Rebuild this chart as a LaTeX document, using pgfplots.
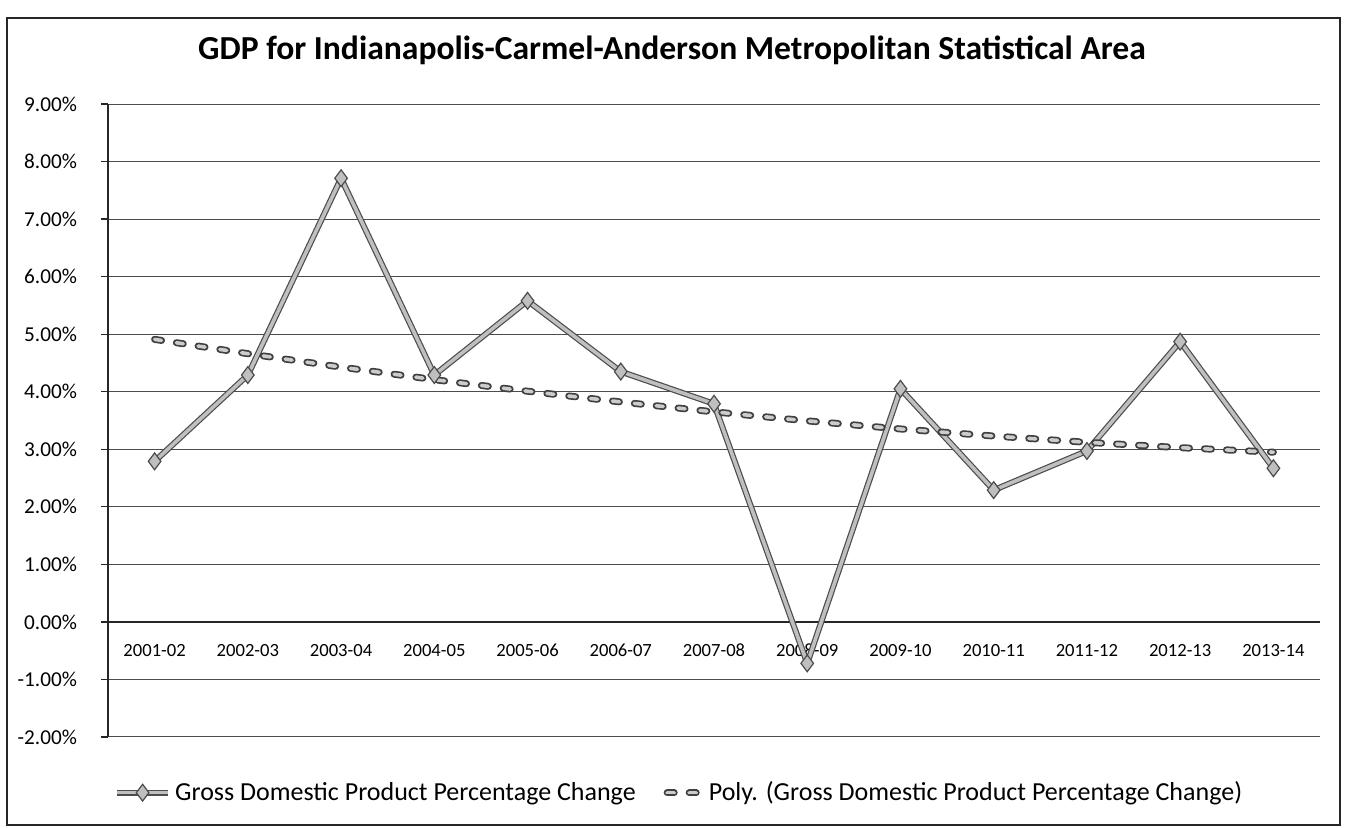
\documentclass[border=0pt]{standalone}
\usepackage{pgfplots}
\pgfplotsset{compat=1.18}
\usepackage{fontspec}
\setmainfont{Carlito}
\begin{document}
\begin{tikzpicture}
\useasboundingbox (-54pt,-45.5pt) rectangle (620pt,368.5pt);
\draw[black!85, line width=0.6pt] (-50.5pt,-44pt) rectangle (616pt,359.5pt);
\node[font=\bfseries\fontsize{16.8}{20}\selectfont] at (282pt,343.5pt) {GDP for Indianapolis-Carmel-Anderson Metropolitan Statistical Area};
\begin{axis}[
  at={(0,0)}, anchor=south west, scale only axis,
  width=606pt, height=316.5pt,
  xmin=-0.5, xmax=12.5, ymin=-2, ymax=9,
  axis x line=middle, axis y line=left,
  axis line style={-, black!85, line width=0.6pt},
  xtick={0,...,12},
  xticklabels={2001-02,2002-03,2003-04,2004-05,2005-06,2006-07,2007-08,2008-09,2009-10,2010-11,2011-12,2012-13,2013-14},
  major x tick style={draw=none},
  extra x ticks={-0.5,0.5,...,12.5},
  extra x tick labels={},
  extra x tick style={grid=none, major tick length=3.5pt, tick align=outside, major tick style={draw=black!85, line width=0.6pt}},
  ytick={-2,-1,...,9},
  yticklabels={-2.00\%,-1.00\%,0.00\%,1.00\%,2.00\%,3.00\%,4.00\%,5.00\%,6.00\%,7.00\%,8.00\%,9.00\%},
  ytick style={draw=black!85, line width=0.6pt},
  tick align=outside, major tick length=3.5pt,
  ymajorgrids, grid style={black!70, line width=0.5pt},
  yticklabel style={font=\fontsize{10.6}{13}\selectfont, xshift=-8.5pt},
  xticklabel style={font=\fontsize{9.3}{11}\selectfont, anchor=north, text height=6.5pt, text depth=0pt, yshift=-4pt},
  legend style={at={(0.472,-0.088)}, anchor=center, draw=none, fill=none,
    legend columns=2, font=\fontsize{13}{15}\selectfont,
    /tikz/every even column/.append style={column sep=12pt}},
  clip=false,
]
\addplot[forget plot, black!70, line width=3pt, no marks] coordinates {
(0,2.79) (1,4.29) (2,7.71) (3,4.29) (4,5.58) (5,4.35) (6,3.79) (7,-0.72) (8,4.05) (9,2.29) (10,2.97) (11,4.87) (12,2.67)};
\addplot[black!25, line width=1.8pt, mark=diamond*, mark size=4.2pt,
  mark options={fill=black!25, draw=black!70, line width=0.6pt},
  legend image code/.code={\draw[black!70,line width=3pt] (-0.15cm,0cm) -- (0.75cm,0cm); \draw[black!25, line width=1.8pt] (-0.15cm,0cm) -- (0.75cm,0cm); \draw[fill=black!25, draw=black!70, line width=0.6pt] (0.3cm,0cm) plot[mark=diamond*, mark size=4.2pt] coordinates {(0.3cm,0cm)};}
] coordinates {
(0,2.79) (1,4.29) (2,7.71) (3,4.29) (4,5.58) (5,4.35) (6,3.79) (7,-0.72) (8,4.05) (9,2.29) (10,2.97) (11,4.87) (12,2.67)};
\addlegendentry{Gross Domestic Product Percentage Change}
\addplot[forget plot, black!75, line width=3.5pt, line cap=round, dash pattern=on 3.5pt off 7.5pt, no marks] coordinates {
(0,4.91) (1,4.661) (2,4.428) (3,4.21) (4,4.009) (5,3.822) (6,3.65) (7,3.494) (8,3.353) (9,3.23) (10,3.121) (11,3.028) (12,2.95)};
\addplot[black!20, line width=1.8pt, line cap=round, dash pattern=on 3.5pt off 7.5pt, no marks,
  legend image code/.code={\draw[black!75,line width=3.5pt,line cap=round,dash pattern=on 3.5pt off 7.5pt] (0.05cm,0cm) -- (0.65cm,0cm); \draw[black!20, line width=1.8pt, line cap=round, dash pattern=on 3.5pt off 7.5pt] (0.05cm,0cm) -- (0.65cm,0cm);}
] coordinates {
(0,4.91) (1,4.661) (2,4.428) (3,4.21) (4,4.009) (5,3.822) (6,3.65) (7,3.494) (8,3.353) (9,3.23) (10,3.121) (11,3.028) (12,2.95)};
\addlegendentry{Poly. (Gross Domestic Product Percentage Change)}
\end{axis}
\end{tikzpicture}
\end{document}
